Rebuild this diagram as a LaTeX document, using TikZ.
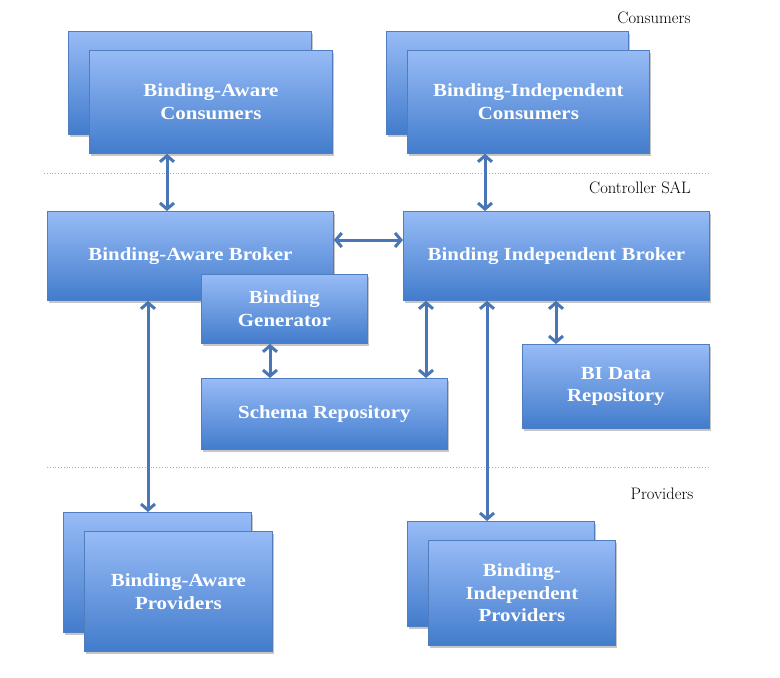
\documentclass[tikz,border=0pt]{standalone}
\usepackage{fontspec}
\usepackage{tikz}
\usetikzlibrary{arrows.meta}
\usetikzlibrary{positioning}
\usetikzlibrary{shadows}
\newfontfamily\boxfont[FakeStretch=1.13]{Liberation Serif}
\definecolor{boxtop}{RGB}{151,187,246}
\definecolor{boxbottom}{RGB}{66,124,204}
\definecolor{boxline}{RGB}{79,125,189}
\definecolor{linkblue}{RGB}{72,118,182}
\definecolor{layerline}{RGB}{160,175,200}
\newcommand{\stackdx}{21pt}
\newcommand{\stackdy}{19pt}
\tikzset{
    common/.style={anchor=north west, draw=boxline, line width=0.8pt, rectangle, inner sep=0pt,
        top color=boxtop, bottom color=boxbottom,
        drop shadow={shadow xshift=1.5pt, shadow yshift=-2.5pt, opacity=0.45, fill=black!50}},
    back/.style={common},
    box/.style={common, text=white, align=center, font=\boxfont\bfseries\fontsize{18.5}{22.7}\selectfont},
    front/.style={box, below right=\stackdy and \stackdx of #1.north west},
    link/.style={draw=linkblue, line width=3pt,
        {Straight Barb[length=6pt,width=14pt]}-{Straight Barb[length=6pt,width=14pt]}},
    layer/.style={draw=layerline, dotted, line width=0.8pt},
    layername/.style={font=\fontsize{16.6}{20}\selectfont},
}

\begin{document}
\begin{tikzpicture}[x=1pt, y=-1pt]
    \useasboundingbox (0,0) rectangle (780,678);

    \node[layername] (lcon) at (654,18) {Consumers};
    \node[layername] (lsal) at (640,188) {Controller SAL};
    \node[layername] (lpro) at (662,494) {Providers};
    \draw[layer] (44,173) -- (708,173);
    \draw[layer] (47,467) -- (710,467);

    \node[back, minimum width=243pt, minimum height=103pt] (bac0) at (68,31) {};
    \node[front=bac0, minimum width=243pt, minimum height=103pt] (bac) {Binding-Aware\\Consumers};
    \node[back, minimum width=242pt, minimum height=103pt] (bic0) at (386,31) {};
    \node[front=bic0, minimum width=242pt, minimum height=103pt] (bic) {Binding-Independent\\Consumers};

    \node[box, minimum width=286pt, minimum height=89pt] (bab) at (47,211) {Binding-Aware Broker};
    \node[box, minimum width=306pt, minimum height=89pt] (bib) at (403,211) {Binding Independent Broker};
    \node[box, minimum width=166pt, minimum height=69pt] (bg) at (201,274) {Binding\\Generator};
    \node[box, minimum width=246pt, minimum height=71pt] (sr) at (201,378) {Schema Repository};
    \node[box, minimum width=187pt, minimum height=84pt] (bidr) at (522,344) {BI Data\\Repository};

    \node[back, minimum width=188pt, minimum height=120pt] (bap0) at (63,512) {};
    \node[front=bap0, minimum width=188pt, minimum height=120pt] (bap) {Binding-Aware\\Providers};
    \node[back, minimum width=187pt, minimum height=105pt] (bip0) at (407,521) {};
    \node[front=bip0, minimum width=187pt, minimum height=105pt] (bip) {Binding-\\Independent\\Providers};

    \draw[link] (bac.south -| 167,0) -- (bab.north -| 167,0);
    \draw[link] (bic.south -| 485,0) -- (bib.north -| 485,0);
    \draw[link] (bab.east |- 0,240) -- (bib.west |- 0,240);
    \draw[link] (bg.south -| 270,0) -- (sr.north -| 270,0);
    \draw[link] (bib.south -| 426,0) -- (sr.north -| 426,0);
    \draw[link] (bib.south -| 556,0) -- (bidr.north -| 556,0);
    \draw[link] (bab.south -| 148,0) -- (bap0.north -| 148,0);
    \draw[link] (bib.south -| 487,0) -- (bip0.north -| 487,0);
\end{tikzpicture}
\end{document}
